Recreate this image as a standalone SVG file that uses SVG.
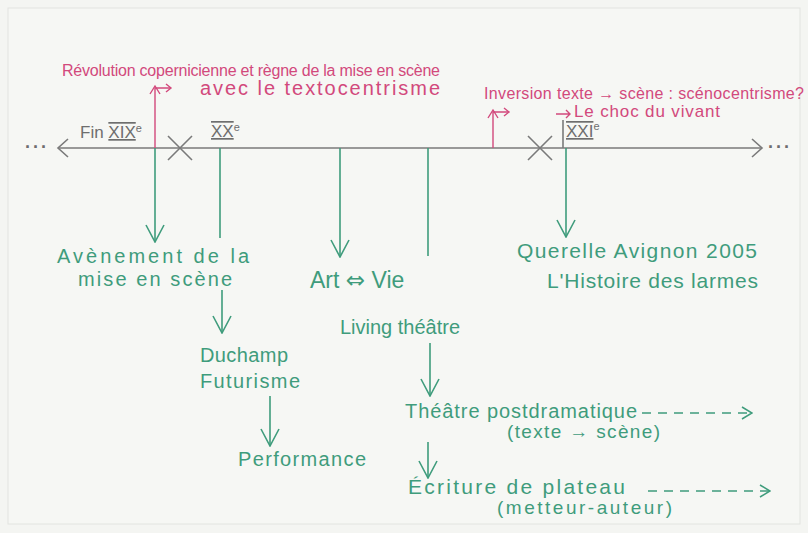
<svg xmlns="http://www.w3.org/2000/svg" width="808" height="533" viewBox="0 0 808 533">
<defs>
<style>
.g{fill:#3f9c7c;font-family:"Liberation Sans",Arial,sans-serif}
.r{fill:#d2497c;font-family:"Liberation Sans",Arial,sans-serif}
.k{fill:#6e6e6e;font-family:"Liberation Sans",Arial,sans-serif}
.gl{stroke:#3f9c7c;stroke-width:1.6;fill:none}
.rl{stroke:#d2497c;stroke-width:1.4;fill:none}
.kl{stroke:#7a7a7a;stroke-width:1.6;fill:none}
.dash{stroke-dasharray:9 7}
</style>
<marker id="ga" viewBox="0 0 20 20" refX="19" refY="10" markerWidth="20" markerHeight="20" orient="auto" markerUnits="userSpaceOnUse">
<path d="M2 1 L19 10 L2 19" fill="none" stroke="#3f9c7c" stroke-width="1.6"/>
</marker>
<marker id="gh" viewBox="0 0 14 14" refX="13" refY="7" markerWidth="14" markerHeight="14" orient="auto" markerUnits="userSpaceOnUse">
<path d="M3 1 L13 7 L3 13" fill="none" stroke="#3f9c7c" stroke-width="1.5"/>
</marker>
</defs>
<rect width="808" height="533" fill="#f4f5f2"/>
<rect x="8" y="8" width="792" height="516" fill="#f6f7f4" stroke="#e2e4e0" stroke-width="1"/>

<g id="connectors">
<!-- timeline -->
<line class="kl" x1="58" y1="148" x2="762" y2="148"/>
<path class="kl" d="M68 139 L58 148 L68 157"/>
<path class="kl" d="M752 139 L762 148 L752 157"/>
<path class="kl" d="M168 136 L192 160 M192 136 L168 160"/>
<path class="kl" d="M528 136 L552 160 M552 136 L528 160"/>
<line class="kl" x1="563" y1="120" x2="563" y2="148"/>
<!-- red arrows -->
<path class="rl" d="M155 148 L155 88 L170 88"/>
<path class="rl" d="M150 94 L155 86 L160 94"/>
<path class="rl" d="M166 84 L171 88 L166 92"/>
<path class="rl" d="M493 148 L493 112 L508 112"/>
<path class="rl" d="M488 118 L493 110 L498 118"/>
<path class="rl" d="M504 108 L509 112 L504 116"/>
<path class="rl" d="M556 114 L570 114 M566 110 L570 114 L566 118"/>
<!-- green arrows -->
<line class="gl" x1="155" y1="148" x2="155" y2="242" marker-end="url(#ga)"/>
<line class="gl" x1="220" y1="148" x2="220" y2="238"/>
<line class="gl" x1="222" y1="290" x2="222" y2="333" marker-end="url(#ga)"/>
<line class="gl" x1="270" y1="396" x2="270" y2="446" marker-end="url(#ga)"/>
<line class="gl" x1="340" y1="148" x2="340" y2="257" marker-end="url(#ga)"/>
<line class="gl" x1="428" y1="148" x2="428" y2="256"/>
<line class="gl" x1="430" y1="343" x2="430" y2="396" marker-end="url(#ga)"/>
<line class="gl" x1="428" y1="442" x2="428" y2="478" marker-end="url(#ga)"/>
<line class="gl" x1="566" y1="148" x2="566" y2="237" marker-end="url(#ga)"/>
<line class="gl dash" x1="642" y1="413" x2="752" y2="413" marker-end="url(#gh)"/>
<line class="gl dash" x1="648" y1="491" x2="770" y2="491" marker-end="url(#gh)"/>
</g>

<g id="timeline-labels">
<text class="k" x="25" y="153" style="font-size:18px;font-weight:bold" letter-spacing="2">···</text>
<text class="k" x="768" y="153" style="font-size:18px;font-weight:bold" letter-spacing="2">···</text>
<g id="fin-xix">
<text class="k" x="80" y="138" style="font-size:17px">Fin <tspan text-decoration="overline underline">XIX</tspan><tspan dy="-6" style="font-size:11px">e</tspan></text>
</g>
<g id="xx">
<text class="k" x="211" y="137" style="font-size:17px"><tspan text-decoration="overline underline">XX</tspan><tspan dy="-6" style="font-size:11px">e</tspan></text>
</g>
<g id="xxi">
<text class="k" x="566" y="137" style="font-size:17px"><tspan text-decoration="overline underline">XXI</tspan><tspan dy="-7" style="font-size:11px">e</tspan></text>
</g>
</g>

<g id="revolution">
<text class="r" x="62" y="76" style="font-size:16px" textLength="378" lengthAdjust="spacing">Révolution copernicienne et règne de la mise en scène</text>
<text class="r" x="200" y="95" style="font-size:20px" textLength="240" lengthAdjust="spacing">avec le textocentrisme</text>
</g>
<g id="inversion">
<text class="r" x="484" y="99" style="font-size:16px" textLength="320" lengthAdjust="spacing">Inversion texte → scène : scénocentrisme?</text>
<text class="r" x="574" y="117" style="font-size:17px" textLength="146" lengthAdjust="spacing">Le choc du vivant</text>
</g>

<g id="avenement">
<text class="g" x="57" y="263" style="font-size:20px" textLength="192" lengthAdjust="spacing">Avènement de la</text>
<text class="g" x="78" y="286" style="font-size:20px" textLength="154" lengthAdjust="spacing">mise en scène</text>
</g>
<g id="duchamp">
<text class="g" x="200" y="362" style="font-size:20px" textLength="88" lengthAdjust="spacing">Duchamp</text>
<text class="g" x="200" y="388" style="font-size:20px" textLength="100" lengthAdjust="spacing">Futurisme</text>
</g>
<g id="performance">
<text class="g" x="238" y="466" style="font-size:20px" textLength="128" lengthAdjust="spacing">Performance</text>
</g>
<g id="art-vie">
<text class="g" x="310" y="288" style="font-size:23px">Art <tspan style="font-family:'DejaVu Sans',sans-serif">⇔</tspan> Vie</text>
<text class="g" x="340" y="334" style="font-size:20px" textLength="120" lengthAdjust="spacing">Living théâtre</text>
</g>
<g id="postdramatique">
<text class="g" x="405" y="418" style="font-size:20px" textLength="232" lengthAdjust="spacing">Théâtre postdramatique</text>
<text class="g" x="507" y="438" style="font-size:19px" textLength="153" lengthAdjust="spacing">(texte → scène)</text>
</g>
<g id="ecriture">
<text class="g" x="408" y="494" style="font-size:21px" textLength="217" lengthAdjust="spacing">Écriture de plateau</text>
<text class="g" x="497" y="514" style="font-size:19px" textLength="175" lengthAdjust="spacing">(metteur-auteur)</text>
</g>
<g id="querelle">
<text class="g" x="517" y="258" style="font-size:21px" textLength="240" lengthAdjust="spacing">Querelle Avignon 2005</text>
<text class="g" x="547" y="288" style="font-size:21px" textLength="211" lengthAdjust="spacing">L'Histoire des larmes</text>
</g>
</svg>
